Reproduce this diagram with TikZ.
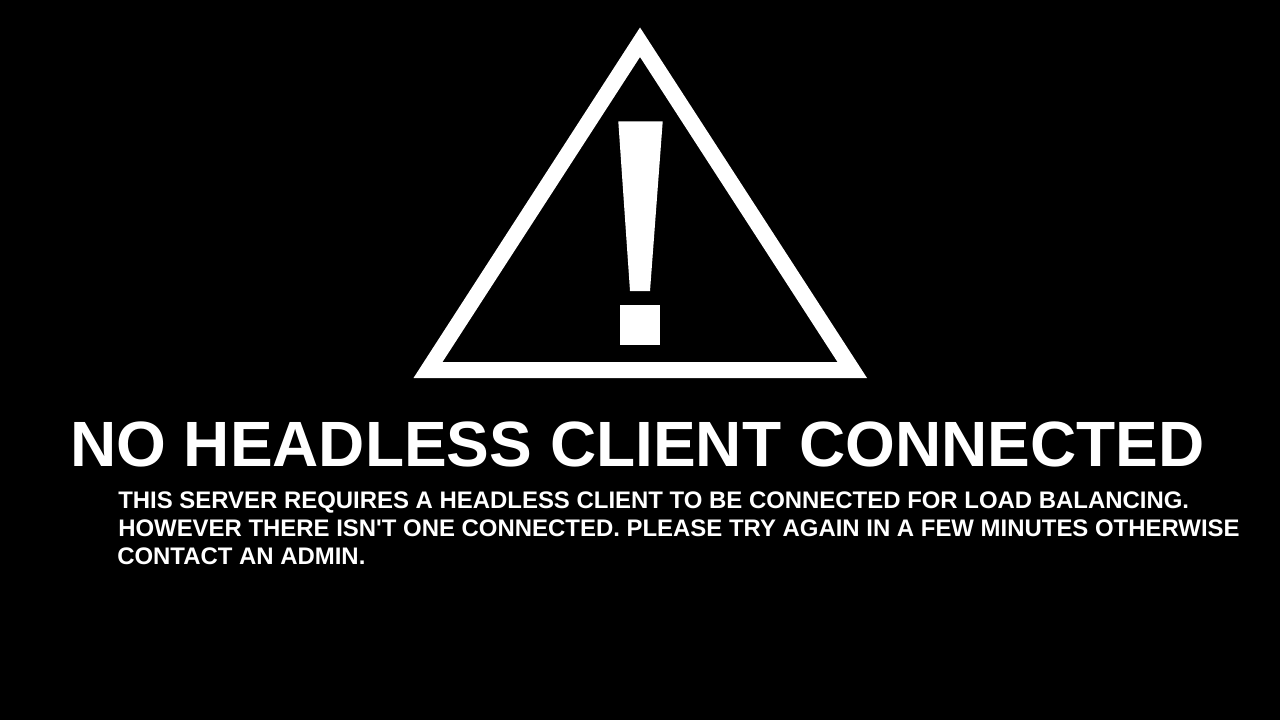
\documentclass[tikz,border=0pt]{standalone}
\usepackage{fontspec}
\newfontfamily\signfont{Liberation Sans}
\tikzset{
    warning-title/.style = {text=white, inner sep=0pt, font=\signfont\bfseries\fontsize{48pt}{48pt}\selectfont},
    warning-text/.style = {text=white, inner sep=0pt, font=\signfont\bfseries\fontsize{17.95pt}{20.8pt}\selectfont},
}

\begin{document}
\begin{tikzpicture}[x=0.75pt,y=-0.75pt]
\fill[black] (0,0) rectangle (1280,720);
\useasboundingbox (0,0) rectangle (1280,720);
% warning sign
\fill[white,even odd rule] (640,27.5) -- (867,378) -- (413.5,378) -- cycle
    (640,57) -- (442.5,362) -- (837.5,362) -- cycle;
\fill[white] (618.3,121.5) -- (662.7,121.5) -- (650,291) -- (630,291) -- cycle;
\fill[white] (620.3,305.3) rectangle (660.3,345.3);
\node[warning-title, anchor=base] (title) at (637.3,466) {NO HEADLESS CLIENT CONNECTED};
\node[warning-text, anchor=base west] (line1) at (118,508.5) {THIS SERVER REQUIRES A HEADLESS CLIENT TO BE CONNECTED FOR LOAD BALANCING.};
\node[warning-text, anchor=base west] (line2) at (118,536.5) {HOWEVER THERE ISN'T ONE CONNECTED. PLEASE TRY AGAIN IN A FEW MINUTES OTHERWISE};
\node[warning-text, anchor=base west] (line3) at (117,564) {CONTACT AN ADMIN.};
\end{tikzpicture}
\end{document}
